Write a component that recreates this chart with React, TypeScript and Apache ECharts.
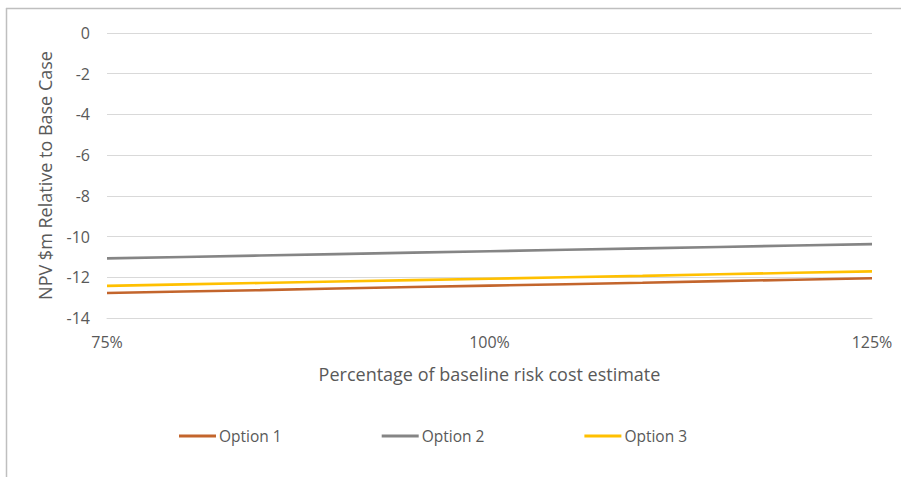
import React, { useEffect, useRef } from "react";
import * as echarts from "echarts";

// Percentage of the baseline risk cost estimate
const riskPct = [75, 80, 85, 90, 95, 100, 105, 110, 115, 120, 125];
// NPV ($m) relative to the base case for each option
const option1 = [-12.77, -12.7, -12.63, -12.55, -12.48, -12.41, -12.34, -12.27, -12.19, -12.12, -12.05];
const option2 = [-11.07, -11.0, -10.93, -10.86, -10.79, -10.72, -10.65, -10.58, -10.51, -10.44, -10.37];
const option3 = [-12.42, -12.35, -12.28, -12.21, -12.14, -12.07, -12.0, -11.93, -11.85, -11.78, -11.71];
const seriesNames = ["Option 1", "Option 2", "Option 3"];
const seriesColors = ["#C3652C", "#858585", "#FFC000"];

const FONT = "'Open Sans', 'Noto Sans', sans-serif";
const TEXT = "#595959";

export default function App() {
  const ref = useRef<HTMLDivElement>(null);

  useEffect(() => {
    if (!ref.current) return;
    const chart = echarts.init(ref.current, undefined, { renderer: "svg" });
    const all = [option1, option2, option3];
    chart.setOption({
      animation: false,
      backgroundColor: "#ffffff",
      textStyle: { fontFamily: FONT },
      grid: { left: 107, right: 29, top: 33, bottom: 159, containLabel: false },
      legend: {
        left: 179,
        top: 428,
        padding: 0,
        icon: "rect",
        itemWidth: 37,
        itemHeight: 3,
        itemGap: 100,
        data: seriesNames,
        textStyle: { color: TEXT, fontSize: 15.5, fontFamily: FONT, padding: [0, 0, 0, -2] },
      },
      xAxis: {
        type: "value",
        min: 75,
        max: 125,
        interval: 25,
        name: "Percentage of baseline risk cost estimate",
        nameLocation: "middle",
        nameGap: 47,
        nameTextStyle: { color: TEXT, fontSize: 18, fontFamily: FONT },
        axisLine: { show: true, onZero: false, lineStyle: { color: "#d9d9d9", width: 1 } },
        axisTick: { show: false },
        splitLine: { show: false },
        axisLabel: {
          color: TEXT,
          fontSize: 16,
          fontFamily: FONT,
          margin: 16,
          formatter: (v: number) => `${v}%`,
        },
      },
      yAxis: {
        type: "value",
        min: -14,
        max: 0,
        interval: 2,
        name: "NPV $m Relative to Base Case",
        nameLocation: "middle",
        nameGap: 53,
        nameTextStyle: { color: TEXT, fontSize: 18, fontFamily: FONT },
        axisLine: { show: false },
        axisTick: { show: false },
        splitLine: { lineStyle: { color: "#d9d9d9", width: 1 } },
        axisLabel: { color: TEXT, fontSize: 16, fontFamily: FONT, margin: 17 },
      },
      series: seriesNames.map((name, i) => ({
        name,
        type: "line",
        showSymbol: false,
        symbol: "none",
        color: seriesColors[i],
        lineStyle: { color: seriesColors[i], width: 2.6 },
        data: riskPct.map((x, j) => [x, all[i][j]]),
      })),
      graphic: [
        {
          type: "line",
          shape: { x1: 6, y1: 8.5, x2: 901, y2: 8.5 },
          style: { stroke: "#bfbfbf", lineWidth: 1.5 },
        },
        {
          type: "line",
          shape: { x1: 6.5, y1: 8, x2: 6.5, y2: 477 },
          style: { stroke: "#bfbfbf", lineWidth: 1.5 },
        },
      ],
    });
    return () => chart.dispose();
  }, []);

  return (
    <div
      ref={ref}
      style={{ position: "fixed", left: 0, top: 0, width: 901, height: 477 }}
    />
  );
}
